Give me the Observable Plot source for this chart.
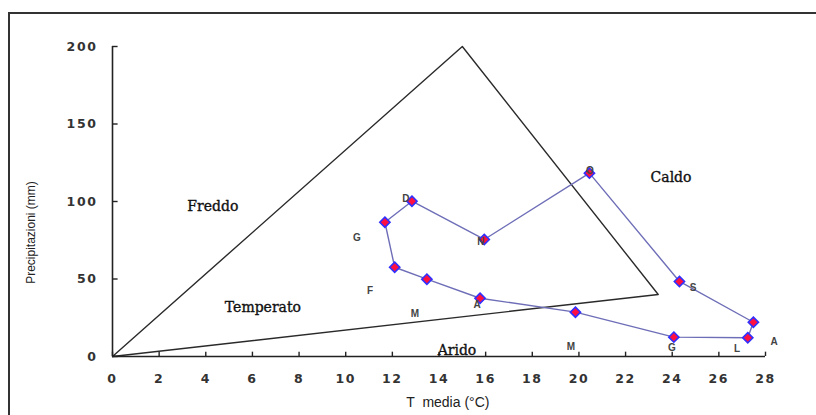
<!DOCTYPE html>
<html>
<head>
<meta charset="utf-8">
<script src="https://cdn.jsdelivr.net/npm/d3@7"></script>
<script src="https://cdn.jsdelivr.net/npm/@observablehq/plot@0.6"></script>
<style>
  html, body { margin: 0; padding: 0; background: #fff; overflow: hidden; }
  #wrap { position: relative; width: 816px; height: 415px; overflow: hidden; }
  #frame { position: absolute; left: 8px; top: 12px; width: 900px; height: 500px;
           border: 2px solid #333; box-sizing: border-box; pointer-events: none; }
</style>
</head>
<body>
<div id="wrap"><div id="frame"></div></div>
<script>
// Monthly climate data (Jan..Dec)
const months = ["G","F","M","A","M","G","L","A","S","O","N","D"];
const temp = [11.68, 12.10, 13.48, 15.76, 19.85, 24.07, 27.24, 27.48, 24.31, 20.45, 15.94, 12.84];
const prec = [86.6, 57.6, 49.9, 37.6, 28.6, 12.5, 12.1, 22.1, 48.4, 118.3, 75.5, 100.2];
// month label anchor positions (data units)
const labelT = [10.48, 11.04, 12.97, 15.63, 19.66, 23.99, 26.78, 28.37, 24.89, 20.47, 15.80, 12.58];
const labelP = [76.8, 42.6, 27.7, 33.5, 6.5, 5.8, 5.2, 9.7, 44.5, 120.0, 74.2, 101.9];

// Climate zone triangle
const triT = [0, 15, 23.4, 0];
const triP = [0, 200, 40, 0];

// Zone names
const zones = ["Freddo", "Temperato", "Caldo", "Arido"];
const zoneT = [4.30, 6.45, 23.95, 14.77];
const zoneP = [96.8, 31.6, 115.7, 3.9];

// Axis ticks
const xTicks = d3.range(0, 29, 2);
const yTicks = [0, 50, 100, 150, 200];

const pts = temp.map((t, i) => ({t, p: prec[i], m: months[i]}));
const loop = pts.concat([pts[0]]);
const tri = triT.map((t, i) => ({t, p: triP[i]}));
const zoneData = zones.map((z, i) => ({z, t: zoneT[i], p: zoneP[i]}));
const labelData = months.map((m, i) => ({m, t: labelT[i], p: labelP[i]}));

const chart = Plot.plot({
  width: 816,
  height: 415,
  marginLeft: 112,
  marginRight: 51,
  marginTop: 46,
  marginBottom: 59,
  x: {domain: [0, 28]},
  y: {domain: [0, 200]},
  style: {background: "transparent", color: "#222"},
  marks: [
    // triangle
    Plot.line(tri, {x: "t", y: "p", stroke: "#2a2a2a", strokeWidth: 1.4}),
    // axes lines
    Plot.ruleX([0], {y1: 0, y2: 200, stroke: "#222", strokeWidth: 1.6}),
    Plot.ruleY([0], {x1: 0, x2: 28, stroke: "#222", strokeWidth: 1.6}),
    // inward ticks
    Plot.ruleX(xTicks, {y1: 0, y2: 2.8, stroke: "#222", strokeWidth: 1.4}),
    Plot.ruleY(yTicks, {x1: 0, x2: 0.24, stroke: "#222", strokeWidth: 1.4}),
    Plot.axisX({ticks: xTicks, tickSize: 0, tickPadding: 18, fontSize: 12.5, fontFamily: "DejaVu Sans", tickFormat: d => String(d), label: null}),
    Plot.axisY({ticks: yTicks, tickSize: 0, tickPadding: 15, fontSize: 12.5, fontFamily: "DejaVu Sans", tickFormat: d => String(d), label: null}),
    // loop line
    Plot.line(loop, {x: "t", y: "p", stroke: "#6e6eb8", strokeWidth: 1.4}),
    Plot.dot(pts, {x: "t", y: "p", symbol: "diamond2", r: 4.6, fill: "#ff1040", stroke: "#3030ff", strokeWidth: 1.6}),
    // month labels
    Plot.text(labelData, {x: "t", y: "p", text: "m", fontSize: 10, fontFamily: "Liberation Sans", fontWeight: "bold", fill: "#444", ariaLabel: "month-label"}),
    // zone labels
    Plot.text(zoneData, {x: "t", y: "p", text: "z", fontSize: 14, fontFamily: "DejaVu Serif", fill: "#111", stroke: "#111", strokeWidth: 0.35, ariaLabel: "zone-label"}),
    // axis titles
    Plot.text([0], {x: -3.5, y: 80, text: () => "Precipitazioni (mm)", rotate: -90, fontSize: 12, fontFamily: "Liberation Sans", fill: "#222", ariaLabel: "y-title"}),
    Plot.text([0], {x: 14.38, y: -29.7, text: () => "T  media (°C)", fontSize: 14, fontFamily: "Liberation Sans", fill: "#222", ariaLabel: "x-title"})
  ]
});

const svg = d3.select(chart);
svg.selectAll('g[aria-label="x-axis tick label"] text, g[aria-label="y-axis tick label"] text')
  .attr("letter-spacing", "1.6px").attr("font-weight", "600").attr("fill", "#333");
svg.selectAll('g[aria-label="zone-label"] text').attr("letter-spacing", "0.8px");
svg.selectAll('g[aria-label="y-title"] text').attr("letter-spacing", "0.6px");
svg.selectAll('g[aria-label="x-title"] text').attr("letter-spacing", "0.8px").style("white-space", "pre");

document.getElementById("wrap").insertBefore(chart, document.getElementById("frame"));
</script>
</body>
</html>
